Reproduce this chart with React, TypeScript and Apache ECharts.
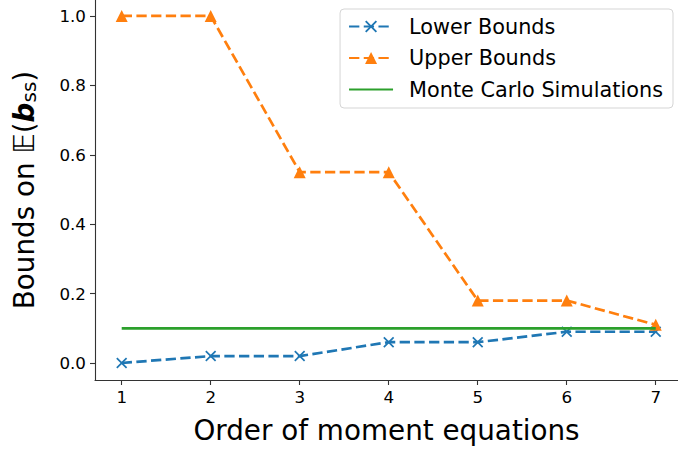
import React, { useEffect, useRef } from "react";
import * as echarts from "echarts";

const orders = [1, 2, 3, 4, 5, 6, 7];
const lowerBounds = [0.0, 0.02, 0.02, 0.06, 0.06, 0.09, 0.09];
const upperBounds = [1.0, 1.0, 0.55, 0.55, 0.18, 0.18, 0.11];
const monteCarlo = [0.1, 0.1, 0.1, 0.1, 0.1, 0.1, 0.1];
const xTicks = [1, 2, 3, 4, 5, 6, 7];
const yTicks = [0.0, 0.2, 0.4, 0.6, 0.8, 1.0];

const BLUE = "#1f77b4";
const ORANGE = "#ff7f0e";
const GREEN = "#2ca02c";
const FONT = "DejaVu Sans";
const LW = 2.7;
const DASH = [10.3, 4.4];

const d = 1.1;
const X_SYMBOL = `path://M0,${d}L${d},0L5,${5 - d}L${10 - d},0L10,${d}L${5 + d},5L10,${10 - d}L${10 - d},10L5,${5 + d}L${d},10L0,${10 - d}L${5 - d},5Z`;

export default function App() {
  const ref = useRef<HTMLDivElement>(null);
  useEffect(() => {
    if (!ref.current) return;
    const chart = echarts.init(ref.current, null, { renderer: "svg" });
    chart.setOption({
      animation: false,
      backgroundColor: "#ffffff",
      textStyle: { fontFamily: FONT },
      grid: { left: 95, right: 0, top: 0, bottom: 70, containLabel: false },
      legend: {
        orient: "vertical",
        right: 5,
        top: 9,
        itemWidth: 44,
        itemHeight: 15,
        itemGap: 10.5,
        padding: [7, 10, 8, 8],
        borderColor: "#d5d5d5",
        borderWidth: 1,
        borderRadius: 4,
        backgroundColor: "#ffffff",
        textStyle: { fontFamily: FONT, fontSize: 20.8, color: "#000", padding: [0, 0, 0, 11] },
        data: [
          "Lower Bounds",
          "Upper Bounds",
          { name: "Monte Carlo Simulations", itemStyle: { opacity: 0 } },
        ],
      },
      xAxis: {
        type: "value",
        min: 0.7,
        max: 7.25,
        name: "Order of moment equations",
        nameLocation: "middle",
        nameGap: 36,
        nameTextStyle: { fontFamily: FONT, fontSize: 27.8, color: "#000" },
        splitLine: { show: false },
        axisLine: { show: true, onZero: false, lineStyle: { color: "#333", width: 1.1 } },
        axisTick: { show: true, length: 5, customValues: xTicks, lineStyle: { color: "#333", width: 1.1 } },
        axisLabel: { customValues: xTicks, fontFamily: FONT, fontSize: 16.7, color: "#000", margin: 8 },
      },
      yAxis: {
        type: "value",
        min: -0.049,
        max: 1.046,
        name: "{t|Bounds on 𝔼(}{b|b}{s|ss}{t|)}",
        nameLocation: "middle",
        nameGap: 56,
        nameRotate: 90,
        nameTextStyle: {
          fontFamily: FONT,
          fontSize: 27.8,
          color: "#000",
          rich: {
            t: { fontFamily: FONT, fontSize: 27.8, color: "#000" },
            b: { fontFamily: FONT, fontSize: 27.8, color: "#000", fontWeight: "bold", fontStyle: "italic" },
            s: { fontFamily: FONT, fontSize: 20, color: "#000", padding: [10, 0, 0, 0] },
          },
        },
        splitLine: { show: false },
        axisLine: { show: true, onZero: false, lineStyle: { color: "#333", width: 1.1 } },
        axisTick: { show: true, length: 5, customValues: yTicks, lineStyle: { color: "#333", width: 1.1 } },
        axisLabel: {
          customValues: yTicks,
          formatter: (v: number) => v.toFixed(1),
          fontFamily: FONT,
          fontSize: 16.7,
          color: "#000",
          margin: 9,
        },
      },
      series: [
        {
          name: "Lower Bounds",
          type: "line",
          data: orders.map((x, i) => [x, lowerBounds[i]]),
          symbol: X_SYMBOL,
          symbolSize: 11,
          showAllSymbol: true,
          itemStyle: { color: BLUE },
          lineStyle: { color: BLUE, width: LW, type: DASH },
          z: 3,
        },
        {
          name: "Upper Bounds",
          type: "line",
          data: orders.map((x, i) => [x, upperBounds[i]]),
          symbol: "triangle",
          symbolSize: 12,
          showAllSymbol: true,
          itemStyle: { color: ORANGE },
          lineStyle: { color: ORANGE, width: LW, type: DASH },
          z: 4,
        },
        {
          name: "Monte Carlo Simulations",
          type: "line",
          data: orders.map((x, i) => [x, monteCarlo[i]]),
          symbol: "none",
          itemStyle: { color: GREEN },
          lineStyle: { color: GREEN, width: LW },
          z: 5,
        },
      ],
    });
    return () => chart.dispose();
  }, []);
  return <div ref={ref} style={{ width: 678, height: 450, position: "absolute", left: 0, top: 0 }} />;
}
